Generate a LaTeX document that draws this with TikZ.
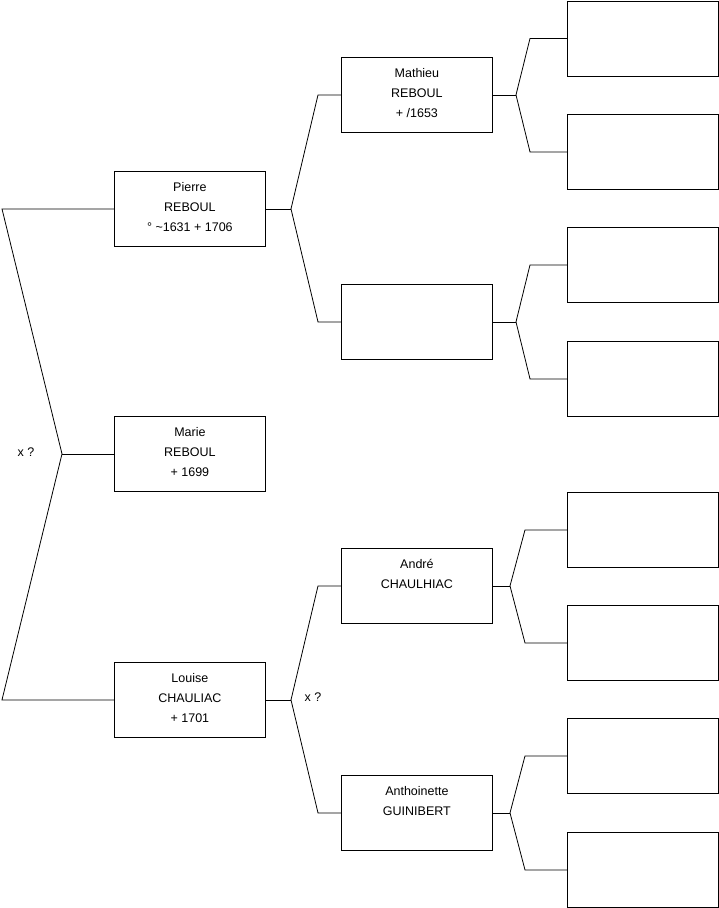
\documentclass[tikz,border=0pt]{standalone}
\usepackage{fontspec}
\setmainfont{Liberation Sans}
\usetikzlibrary{positioning}

\newcommand{\fiche}[1]{\parbox[t][75pt][t]{151pt}{\vspace*{6.5pt}\centering\strut #1}}
\tikzset{
    carte/.style={draw, anchor=north west, inner sep=0pt, line width=0.8pt,
        font=\fontsize{12.5}{20}\selectfont},
    lien/.style={line width=0.8pt},
    union/.style={font=\fontsize{12.5}{15}\selectfont, inner sep=0pt}
}

\begin{document}
\begin{tikzpicture}[x=1pt, y=-1pt]
    \useasboundingbox (0,0) rectangle (719,908);

    % generation 1
    \node[carte] (pierre) at (114,171) {\fiche{Pierre\\REBOUL\\° \textasciitilde1631 + 1706}};
    \node[carte] (marie)  at (114,416) {\fiche{Marie\\REBOUL\\+ 1699}};
    \node[carte] (louise) at (114,662) {\fiche{Louise\\CHAULIAC\\+ 1701}};

    % generation 2
    \node[carte] (mathieu)     at (341,57)  {\fiche{Mathieu\\REBOUL\\+ /1653}};
    \node[carte] (inconnu)     at (341,284) {\fiche{}};
    \node[carte] (andre)       at (341,548) {\fiche{André\\CHAULHIAC}};
    \node[carte] (anthoinette) at (341,775) {\fiche{Anthoinette\\GUINIBERT}};

    % generation 3
    \foreach \i/\y in {1/0.5, 2/114, 3/227, 4/341, 5/492, 6/605, 7/718, 8/832}
        \node[carte] (g\i) at (567,\y) {\fiche{}};

    \coordinate (f0) at (62,0 |- marie.west);
    \coordinate (f1) at (291,0 |- pierre.east);
    \coordinate (f2) at (291,0 |- louise.east);
    \coordinate (f3) at (516,0 |- mathieu.east);
    \coordinate (f4) at (516,0 |- inconnu.east);
    \coordinate (f5) at (510,0 |- andre.east);
    \coordinate (f6) at (510,0 |- anthoinette.east);

    \draw[lien] (marie.west) -- (f0);
    \draw[lien] (f0) -- (2,0 |- pierre.west) -- (pierre.west);
    \draw[lien] (f0) -- (2,0 |- louise.west) -- (louise.west);

    \draw[lien] (pierre.east) -- (f1);
    \draw[lien] (f1) -- (318,0 |- mathieu.west) -- (mathieu.west);
    \draw[lien] (f1) -- (318,0 |- inconnu.west) -- (inconnu.west);

    \draw[lien] (louise.east) -- (f2);
    \draw[lien] (f2) -- (318,0 |- andre.west) -- (andre.west);
    \draw[lien] (f2) -- (318,0 |- anthoinette.west) -- (anthoinette.west);

    \draw[lien] (mathieu.east) -- (f3);
    \draw[lien] (f3) -- (530,0 |- g1.west) -- (g1.west);
    \draw[lien] (f3) -- (530,0 |- g2.west) -- (g2.west);

    \draw[lien] (inconnu.east) -- (f4);
    \draw[lien] (f4) -- (530,0 |- g3.west) -- (g3.west);
    \draw[lien] (f4) -- (530,0 |- g4.west) -- (g4.west);

    \draw[lien] (andre.east) -- (f5);
    \draw[lien] (f5) -- (525,0 |- g5.west) -- (g5.west);
    \draw[lien] (f5) -- (525,0 |- g6.west) -- (g6.west);

    \draw[lien] (anthoinette.east) -- (f6);
    \draw[lien] (f6) -- (525,0 |- g7.west) -- (g7.west);
    \draw[lien] (f6) -- (525,0 |- g8.west) -- (g8.west);

    \node[union] (x0) at (26,452) {x ?};
    \node[union] (x1) at (313,697) {x ?};
\end{tikzpicture}
\end{document}
